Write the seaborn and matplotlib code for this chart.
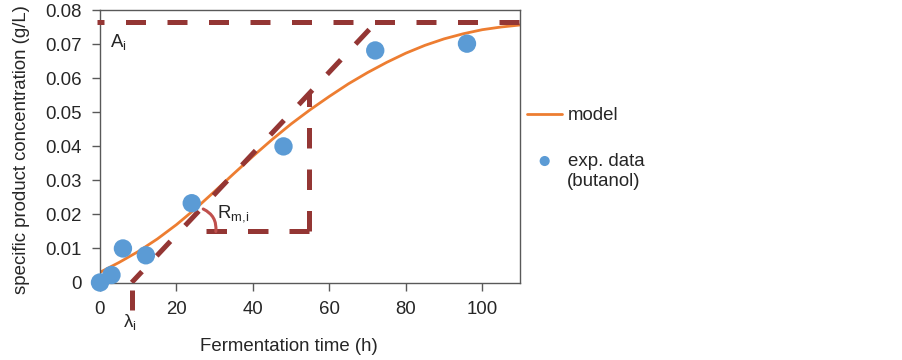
import matplotlib
matplotlib.use("Agg")
import matplotlib.pyplot as plt
import seaborn as sns
import pandas as pd

# ---- data ----
time_exp = [0, 3, 6, 12, 24, 48, 72, 96]
conc_exp = [0.0000, 0.0022, 0.0100, 0.0080, 0.0233, 0.0400, 0.0682, 0.0702]

model_t = [0, 5, 10, 15, 20, 25, 30, 35, 40, 45, 50, 55, 60, 65, 70, 75, 80, 85, 90, 95, 100, 105, 110]
model_c = [0.0030, 0.0059, 0.0091, 0.0128, 0.0170, 0.0217, 0.0268, 0.0320, 0.0371, 0.0420, 0.0466,
           0.0508, 0.0547, 0.0584, 0.0617, 0.0647, 0.0674, 0.0697, 0.0716, 0.0731, 0.0743, 0.0751, 0.0757]

# construction lines (Gompertz parameters illustration)
asym_t = [-0.9, 110.3]
asym_c = [0.0767, 0.0767]
tangent_t = [8.3, 72.4]
tangent_c = [0.0, 0.0767]
tri_h_t = [27.7, 54.75]
tri_h_c = [0.015, 0.015]
tri_v_t = [54.75, 54.75]
tri_v_c = [0.015, 0.0556]
lag_t = [8.3, 8.3]
lag_c = [-0.0022, -0.0080]

x_ticks = [0, 20, 40, 60, 80, 100]
y_ticks = [0, 0.01, 0.02, 0.03, 0.04, 0.05, 0.06, 0.07, 0.08]
y_ticklabels = ["0", "0.01", "0.02", "0.03", "0.04", "0.05", "0.06", "0.07", "0.08"]

ORANGE = "#ED7D31"
BLUE = "#5B9BD5"
DARKRED = "#943634"
ARCRED = "#C0504D"
FS = 13.4

sns.set_style("white")
plt.rcParams["font.family"] = ["Liberation Sans", "DejaVu Sans"]
plt.rcParams["mathtext.fontset"] = "custom"
plt.rcParams["mathtext.rm"] = "Liberation Sans"

fig = plt.figure(figsize=(9.03, 3.60), dpi=100)
ax = fig.add_axes([100 / 903, 1 - 282.5 / 360, 420.5 / 903, (282.5 - 10.3) / 360])

dash = (0, (4.1, 4.2))
lw_d = 3.6

# asymptote line
ax.plot(asym_t, asym_c, color=DARKRED, lw=lw_d, linestyle=(2.6, (4.0, 4.3)),
        dash_capstyle="butt", clip_on=False, zorder=3)
# tangent
ax.plot(tangent_t, tangent_c, color=DARKRED, lw=lw_d, linestyle=(1.0, (4.0, 4.3)),
        dash_capstyle="butt", zorder=3)
# slope triangle (two segments, each starting with a dash)
ax.plot(tri_h_t, tri_h_c, color=DARKRED, lw=lw_d, linestyle=dash,
        dash_capstyle="butt", zorder=3)
ax.plot(tri_v_t, tri_v_c, color=DARKRED, lw=lw_d, linestyle=dash,
        dash_capstyle="butt", zorder=3)
# lag marker below axis
ax.plot(lag_t, lag_c, color=DARKRED, lw=lw_d, solid_capstyle="butt", clip_on=False, zorder=3)

# model curve
dfm = pd.DataFrame({"t": model_t, "c": model_c})
sns.lineplot(data=dfm, x="t", y="c", ax=ax, color=ORANGE, lw=2.0, zorder=2, label="model")

# experimental data
dfe = pd.DataFrame({"t": time_exp, "c": conc_exp})
sns.scatterplot(data=dfe, x="t", y="c", ax=ax, color=BLUE, s=175, edgecolor="none",
                zorder=4, clip_on=False, label="exp. data")

# angle arc for R_m,i
ax.annotate("", xy=(27.0, 0.0216), xytext=(30.3, 0.0150),
            arrowprops=dict(arrowstyle="-", color=ARCRED, lw=2.2,
                            connectionstyle="arc3,rad=0.35", shrinkA=0, shrinkB=0),
            zorder=3)

ax.text(2.5, 0.0705, r"A$_{\mathregular{i}}$", fontsize=FS, va="center", ha="left")
ax.text(30.5, 0.0200, r"R$_{\mathregular{m{,}i}}$", fontsize=FS, va="center", ha="left")
ax.text(7.8, -0.0118, r"λ$_{\mathregular{i}}$", fontsize=FS, va="center", ha="center", clip_on=False)

ax.set_xlim(0, 110)
ax.set_ylim(0, 0.08)
ax.set_xticks(x_ticks)
ax.set_yticks(y_ticks)
ax.set_yticklabels(y_ticklabels)
ax.tick_params(axis="both", which="major", direction="out", length=6, width=1,
               color="#595959", labelsize=FS, pad=7, left=True, bottom=True)
for sp in ax.spines.values():
    sp.set_visible(True)
    sp.set_color("#595959")
    sp.set_linewidth(1.0)

ax.set_xlabel("Fermentation time (h)", fontsize=FS)
ax.set_ylabel("specific product concentration (g/L)", fontsize=FS)
ax.xaxis.set_label_coords(189 / 420.5, -0.205)
ax.yaxis.set_label_coords(-70 / 420.5, 0.49)

leg = ax.legend(loc="upper left", bbox_to_anchor=(527 / 903, 1 - 107 / 360),
                bbox_transform=fig.transFigure, frameon=False, fontsize=FS,
                handlelength=1.9, handletextpad=0.3, labelspacing=1.55,
                borderaxespad=0, borderpad=0, markerscale=0.55)
fig.text(567 / 903, 1 - 181 / 360, "(butanol)", fontsize=FS, va="center", ha="left")

fig.savefig("out.png", dpi=100)
